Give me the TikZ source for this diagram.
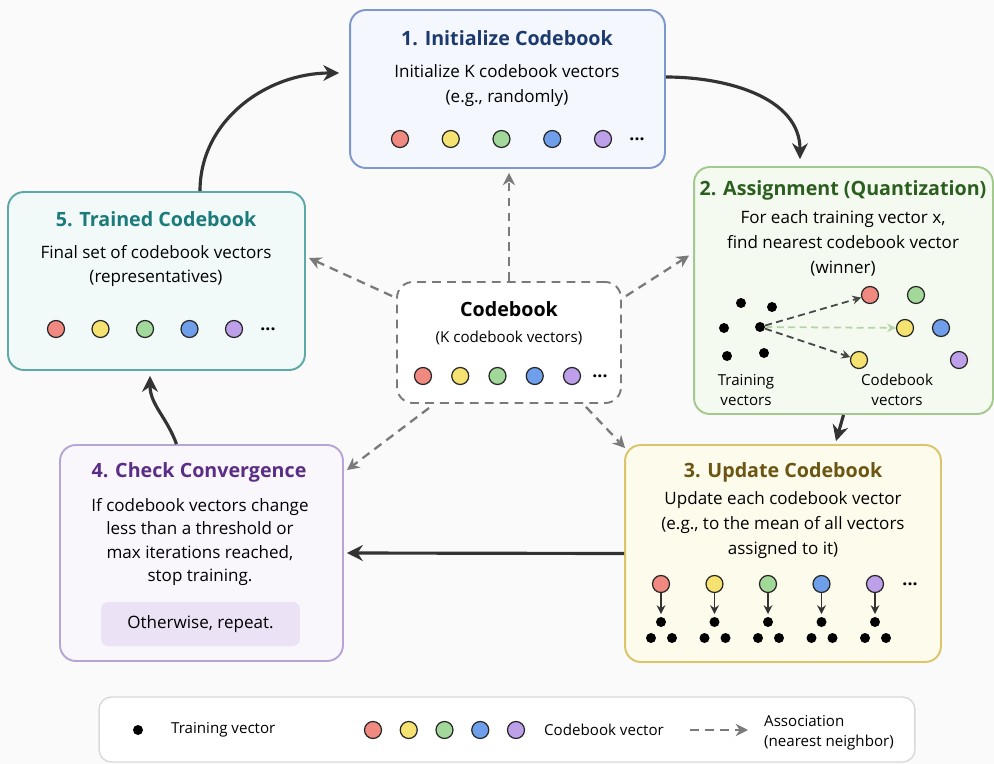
\documentclass[tikz,border=0pt]{standalone}
\usepackage{fontspec}
\setmainfont{Open Sans}
\usepackage{xcolor}
\usepackage{tikz}
\usetikzlibrary{arrows.meta, positioning}

\definecolor{cred}{HTML}{F08A80}
\definecolor{cyellow}{HTML}{F6E271}
\definecolor{cgreen}{HTML}{A2D89A}
\definecolor{cblue}{HTML}{6F9FEA}
\definecolor{cpurple}{HTML}{BE9FEA}
\definecolor{flowgray}{HTML}{333333}
\definecolor{assocgray}{HTML}{7A7A7A}
\definecolor{initline}{HTML}{7D98CF}
\definecolor{initfill}{HTML}{F4F7FD}
\definecolor{inittext}{HTML}{1D3A6E}
\definecolor{assignline}{HTML}{A3C98F}
\definecolor{assignfill}{HTML}{F5FAF0}
\definecolor{assigntext}{HTML}{2B5E1F}
\definecolor{updateline}{HTML}{DCC46A}
\definecolor{updatefill}{HTML}{FDFBEB}
\definecolor{updatetext}{HTML}{6B5512}
\definecolor{checkline}{HTML}{B8A5D8}
\definecolor{checkfill}{HTML}{F9F6FC}
\definecolor{checktext}{HTML}{5A2D86}
\definecolor{otherfill}{HTML}{EBE2F5}
\definecolor{trainedline}{HTML}{5EA8A8}
\definecolor{trainedfill}{HTML}{F2F9F9}
\definecolor{trainedtext}{HTML}{1B7A7A}

\tikzset{
  stepbox/.style={draw, rectangle, rounded corners=9pt, line width=1.1pt},
  title/.style={font=\fontsize{11.2}{13}\selectfont\bfseries},
  body/.style={font=\fontsize{9.7}{14.2}\selectfont, align=center},
  small/.style={font=\fontsize{8.6}{11.3}\selectfont, align=center},
  cv/.style={circle, draw=black!85, line width=0.7pt, minimum size=0.34cm, inner sep=0pt},
  tv/.style={circle, fill=black, minimum size=0.2cm, inner sep=0pt},
  flow/.style={-{Stealth[length=9pt, width=9pt]}, line width=1.8pt, flowgray},
  assoc/.style={-{Stealth[length=7pt, width=7pt]}, line width=1.3pt, assocgray, dash pattern=on 5pt off 3.5pt}
}

\begin{document}
\begin{tikzpicture}[x=0.02cm, y=-0.02cm]
\fill[white!98!black] (0,0) rectangle (994,764);
\useasboundingbox (0,0) rectangle (994,764);

% step boxes
\node (init) [stepbox, draw=initline, fill=initfill, minimum width=6.3cm, minimum height=3.16cm] at (507.5,89) {};
\node (assign) [stepbox, draw=assignline, fill=assignfill, minimum width=5.98cm, minimum height=4.94cm] at (843.5,290.5) {};
\node (update) [stepbox, draw=updateline, fill=updatefill, minimum width=6.32cm, minimum height=4.34cm] at (783,553.5) {};
\node (check) [stepbox, draw=checkline, fill=checkfill, minimum width=5.66cm, minimum height=4.32cm] at (201.5,553) {};
\node (trained) [stepbox, draw=trainedline, fill=trainedfill, minimum width=5.94cm, minimum height=3.56cm] at (156.5,281) {};
\node (cb) [draw=assocgray, dash pattern=on 5pt off 3.5pt, line width=1.1pt, rounded corners=9pt, fill=white, minimum width=4.48cm, minimum height=2.42cm] at (509,342.5) {};
\node (legend) [draw=black!15, line width=0.8pt, rounded corners=7pt, fill=white, minimum width=16.32cm, minimum height=1.3cm] at (507,729.5) {};

% texts
\node (init-t) [title, text=inittext] at (507,38) {1. Initialize Codebook};
\node (init-b) [body] at (507,86) {Initialize K codebook vectors\\(e.g., randomly)};
\node (assign-t) [title, text=assigntext] at (843,190) {2. Assignment (Quantization)};
\node (assign-b) [body] at (843,243) {For each training vector x,\\find nearest codebook vector\\(winner)};
\node (update-t) [title, text=updatetext] at (783,472) {3. Update Codebook};
\node (update-b) [body] at (783,525) {Update each codebook vector\\(e.g., to the mean of all vectors\\assigned to it)};
\node (check-t) [title, text=checktext] at (199,472) {4. Check Convergence};
\node (check-b) [body, font=\fontsize{9.7}{13.4}\selectfont] at (200,542) {If codebook vectors change\\less than a threshold or\\max iterations reached,\\stop training.};
\node (other) [rectangle, rounded corners=4pt, fill=otherfill, minimum width=3.98cm, minimum height=0.88cm, body] at (200.5,624) {Otherwise, repeat.};
\node (trained-t) [title, text=trainedtext] at (156,219) {5. Trained Codebook};
\node (trained-b) [body] at (156,266) {Final set of codebook vectors\\(representatives)};
\node (cb-t) [title] at (509,309) {Codebook};
\node (cb-b) [small] at (509,338) {(K codebook vectors)};

% codebook vector rows
\foreach \c [count=\i] in {cred,cyellow,cgreen,cblue,cpurple} {
  \node (init-c\i) [cv, fill=\c] at ({400+50.75*(\i-1)},139) {};
  \node (trained-c\i) [cv, fill=\c] at ({56+44.5*(\i-1)},329) {};
  \node (cb-c\i) [cv, fill=\c] at ({423+37.25*(\i-1)},376) {};
  \node (update-c\i) [cv, fill=\c] at ({661+53.5*(\i-1)},584) {};
  \node (update-d\i) [tv] at ({661+53.5*(\i-1)},622) {};
  \node (update-l\i) [tv] at ({651+53.5*(\i-1)},638) {};
  \node (update-r\i) [tv] at ({672+53.5*(\i-1)},638) {};
  \draw[-{Stealth[length=5pt, width=5pt]}, line width=1pt, flowgray, shorten >=1.5pt] (update-c\i) -- (update-d\i);
  \node (legend-c\i) [cv, fill=\c] at ({373+35.75*(\i-1)},730) {};
}
\node (init-dots) [body, font=\bfseries] at (637,139) {...};
\node (trained-dots) [body, font=\bfseries] at (268,329) {...};
\node (cb-dots) [body, font=\bfseries] at (600,376) {...};
\node (update-dots) [body, font=\bfseries] at (910,584) {...};

% assignment sketch
\node (td1) [tv] at (741,303) {};
\node (td2) [tv] at (772,307) {};
\node (td3) [tv] at (724,328) {};
\node (td4) [tv] at (760,327) {};
\node (td5) [tv] at (727,356) {};
\node (td6) [tv] at (764,353) {};
\node (ac1) [cv, fill=cred] at (870,295) {};
\node (ac2) [cv, fill=cgreen] at (916,295) {};
\node (ac3) [cv, fill=cyellow] at (905,328) {};
\node (ac4) [cv, fill=cblue] at (941,328) {};
\node (ac5) [cv, fill=cyellow] at (859,360) {};
\node (ac6) [cv, fill=cpurple] at (959,360) {};
\draw[assoc, line width=1pt, -{Stealth[length=5pt, width=5pt]}, dash pattern=on 4pt off 2.5pt, flowgray!90] (td4) -- (ac1);
\draw[assoc, line width=1pt, -{Stealth[length=5pt, width=5pt]}, dash pattern=on 4pt off 2.5pt, assignline!80] (td4) -- (ac3);
\draw[assoc, line width=1pt, -{Stealth[length=5pt, width=5pt]}, dash pattern=on 4pt off 2.5pt, flowgray!90] (td4) -- (ac5);
\node (tv-label) [small] at (746,390) {Training\\vectors};
\node (cv-label) [small] at (897,390) {Codebook\\vectors};

% main cycle
\draw[flow] ([xshift=0.87cm]trained.north) to[out=90, in=180] ([yshift=0.32cm, xshift=-0.2cm]init.west);
\draw[flow] ([yshift=0.24cm]init.east) to[out=0, in=90] ([xshift=-0.87cm, yshift=0.14cm]assign.north);
\draw[flow] (assign.south) -- ([xshift=1.06cm, yshift=0.06cm]update.north);
\draw[flow] (update.west) -- ([xshift=0.06cm]check.east);
\draw[flow] ([xshift=-0.5cm]check.north) to[out=110, in=-90] ([xshift=-0.13cm, yshift=-0.1cm]trained.south);

% codebook associations
\draw[assoc] (cb.north) -- ([yshift=-0.08cm]cb.north |- init.south);
\draw[assoc] ([yshift=-0.3cm, xshift=-0.08cm]cb.north west) -- ([yshift=0.46cm, xshift=0.06cm]trained.east);
\draw[assoc] ([yshift=-0.3cm, xshift=0.08cm]cb.north east) -- ([yshift=0.7cm, xshift=-0.08cm]assign.west);
\draw[assoc] ([xshift=0.66cm, yshift=-0.08cm]cb.south west) -- ([yshift=1.66cm, xshift=0.06cm]check.east);
\draw[assoc] ([xshift=-0.72cm, yshift=-0.06cm]cb.south east) -- ([xshift=0.02cm, yshift=-0.08cm]update.north west);

% legend
\node (legend-tv) [tv] at (138,730) {};
\node (legend-tv-t) [small, anchor=west] at (165,730) {Training vector};
\node (legend-cv-t) [small, anchor=west] at (538,730) {Codebook vector};
\coordinate (legend-a) at (690,730);
\coordinate (legend-b) at (748,730);
\draw[assoc] (legend-a) -- (legend-b);
\node (legend-as-t) [small, align=left, anchor=west] at (758,733) {Association\\(nearest neighbor)};
\end{tikzpicture}
\end{document}
